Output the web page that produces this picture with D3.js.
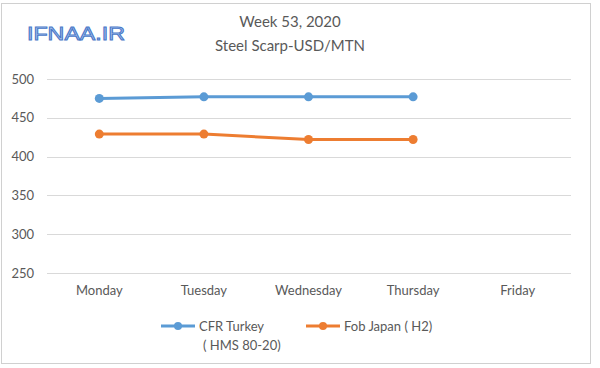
<!DOCTYPE html>
<html>
<head>
<meta charset="utf-8">
<script src="https://cdn.jsdelivr.net/npm/d3@7"></script>
<style>
  html, body { margin: 0; padding: 0; background: #fff; }
  svg { display: block; }
</style>
</head>
<body>
<svg id="chart" width="600" height="368"></svg>
<script>
const categories = ["Monday", "Tuesday", "Wednesday", "Thursday", "Friday"];
const cfrTurkey = [475, 477, 477, 477];
const fobJapan = [429, 429, 422, 422];
const yTicks = [250, 300, 350, 400, 450, 500];
const seriesNames = [["CFR Turkey", "( HMS 80-20)"], ["Fob Japan ( H2)"]];
const colors = ["#5b9bd5", "#ed7d31"];
const titleLines = ["Week 53, 2020", "Steel Scarp-USD/MTN"];
const logoText = "IFNAA.IR";

const svg = d3.select("#chart");
const font = "Lato, 'Open Sans', sans-serif";

// outer frame
svg.append("rect").attr("x", 1.5).attr("y", 3.5).attr("width", 589).attr("height", 360)
  .attr("fill", "#fff").attr("stroke", "#d0d0d0").attr("stroke-width", 1);

const x = d3.scaleBand().domain(categories).range([47, 570]);
const y = d3.scaleLinear().domain([250, 500]).range([273, 79]);

// gridlines
svg.append("g").selectAll("line").data(yTicks).join("line")
  .attr("x1", 47).attr("x2", 571)
  .attr("y1", d => Math.round(y(d)) + 0.5).attr("y2", d => Math.round(y(d)) + 0.5)
  .attr("stroke", "#d9d9d9").attr("stroke-width", 1);

// y axis labels
const yAxis = d3.axisLeft(y).tickValues(yTicks).tickSize(0).tickPadding(0);
const gy = svg.append("g").attr("transform", "translate(34,0)").call(yAxis);
gy.select(".domain").remove();
gy.selectAll("text").attr("font-family", font).attr("font-size", 13).attr("fill", "#595959");

// x axis labels
const xAxis = d3.axisBottom(x).tickSize(0).tickPadding(0);
const gx = svg.append("g").attr("transform", "translate(0,286)").call(xAxis);
gx.select(".domain").remove();
gx.selectAll("text").attr("font-family", font).attr("font-size", 13).attr("fill", "#595959");

// series
const series = [cfrTurkey, fobJapan];
const line = d3.line()
  .x((d, i) => x(categories[i]) + x.bandwidth() / 2)
  .y(d => y(d));
series.forEach((vals, si) => {
  svg.append("path").datum(vals).attr("d", line)
    .attr("fill", "none").attr("stroke", colors[si]).attr("stroke-width", 3)
    .attr("stroke-linejoin", "round");
  svg.append("g").selectAll("circle").data(vals).join("circle")
    .attr("cx", (d, i) => x(categories[i]) + x.bandwidth() / 2)
    .attr("cy", d => y(d)).attr("r", 4.5).attr("fill", colors[si]);
});

// title
svg.append("text").attr("x", 290).attr("y", 27).attr("text-anchor", "middle")
  .attr("font-family", font).attr("font-size", 15).attr("fill", "#595959").text(titleLines[0]);
svg.append("text").attr("x", 290).attr("y", 51).attr("text-anchor", "middle")
  .attr("font-family", font).attr("font-size", 15).attr("fill", "#595959").text(titleLines[1]);

// logo
svg.append("text").attr("x", 27).attr("y", 40)
  .attr("font-family", "'Liberation Sans', Arial, sans-serif").attr("font-size", 18)
  .attr("fill", "#a9c4ee").attr("stroke", "#4a78c8").attr("stroke-width", 0.9)
  .attr("textLength", 98).attr("lengthAdjust", "spacingAndGlyphs")
  .text(logoText);

// legend
const legendPos = [[161, 199], [306, 344]];
seriesNames.forEach((names, si) => {
  const [lx, tx] = legendPos[si];
  const ly = 326;
  svg.append("line").attr("x1", lx).attr("x2", lx + 34).attr("y1", ly).attr("y2", ly)
    .attr("stroke", colors[si]).attr("stroke-width", 3);
  svg.append("circle").attr("cx", lx + 17).attr("cy", ly).attr("r", 4).attr("fill", colors[si]);
  names.forEach((n, k) => {
    svg.append("text").attr("x", tx + (k > 0 ? 4 : 0)).attr("y", ly + 5 + k * 19)
      .attr("font-family", font).attr("font-size", 13).attr("fill", "#595959").text(n);
  });
});
</script>
</body>
</html>
